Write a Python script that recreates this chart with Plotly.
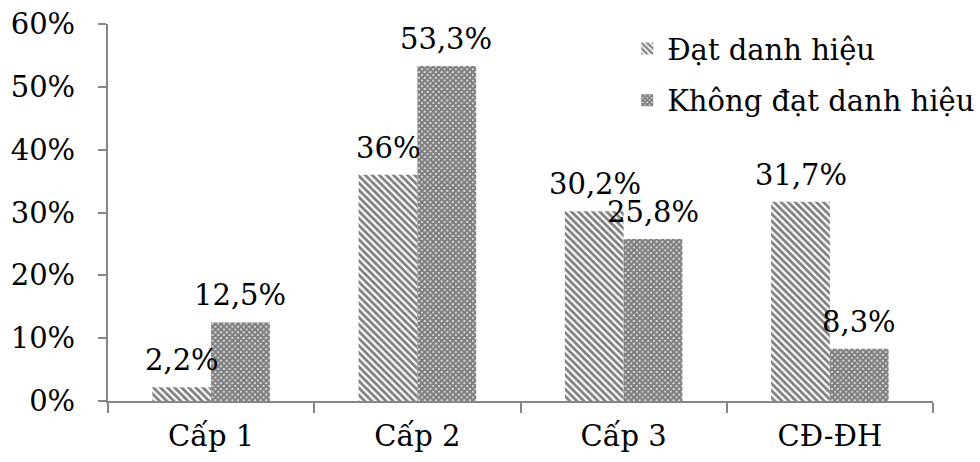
import plotly.graph_objects as go

categories = ["Cấp 1", "Cấp 2", "Cấp 3", "CĐ-ĐH"]
dat = [2.2, 36.0, 30.2, 31.7]
khong_dat = [12.5, 53.3, 25.8, 8.3]
dat_labels = ["2,2%", "36%", "30,2%", "31,7%"]
khong_dat_labels = ["12,5%", "53,3%", "25,8%", "8,3%"]
series_names = ["Đạt danh hiệu", "Không đạt danh hiệu"]
y_ticks = [0, 10, 20, 30, 40, 50, 60]
y_tick_labels = ["0%", "10%", "20%", "30%", "40%", "50%", "60%"]

FONT = "DejaVu Serif"
FS = 29
AXIS = "#868686"

fig = go.Figure()
fig.add_trace(go.Bar(
    x=categories, y=dat, name=series_names[0], legendgroup="a",
    marker=dict(color="white", line=dict(width=0),
                pattern=dict(shape="\\", size=5, solidity=0.55,
                             fgcolor="black", bgcolor="white")),
))
fig.add_trace(go.Bar(
    x=categories, y=khong_dat, name=series_names[1], legendgroup="b",
    marker=dict(color="white", line=dict(width=0),
                pattern=dict(shape="x", size=4, solidity=0.85,
                             fgcolor="black", bgcolor="white")),
))

# value labels above each bar
for vals, labels, shift in ((dat, dat_labels, -29), (khong_dat, khong_dat_labels, 29)):
    for c, v, t in zip(categories, vals, labels):
        fig.add_annotation(x=c, y=v, text=t, showarrow=False, xanchor="center",
                           yanchor="bottom", xshift=shift, yshift=8,
                           font=dict(family=FONT, size=FS, color="black"))

fig.update_layout(
    width=980, height=462,
    margin=dict(l=108, r=47, t=24, b=61, autoexpand=False),
    paper_bgcolor="white", plot_bgcolor="white",
    barmode="group", bargap=0.43, bargroupgap=0,
    font=dict(family=FONT, size=FS, color="black"),
    showlegend=True,
    legend=dict(xref="container", yref="container", x=0.64, y=0.95,
                xanchor="left", yanchor="top",
                bgcolor="rgba(0,0,0,0)", font=dict(family=FONT, size=FS),
                itemwidth=30, traceorder="grouped", tracegroupgap=11),
)
fig.update_xaxes(
    showline=True, linecolor=AXIS, linewidth=2,
    ticks="outside", ticklen=10, tickcolor=AXIS, tickwidth=2,
    tickson="boundaries", showgrid=False, ticklabelstandoff=8,
)
fig.update_yaxes(
    range=[0, 60], tickvals=y_ticks, ticktext=y_tick_labels,
    showline=True, linecolor=AXIS, linewidth=2,
    ticks="outside", ticklen=8, tickcolor=AXIS, tickwidth=2,
    showgrid=False, zeroline=False, ticklabelstandoff=17,
)

fig.write_html("out.html")
